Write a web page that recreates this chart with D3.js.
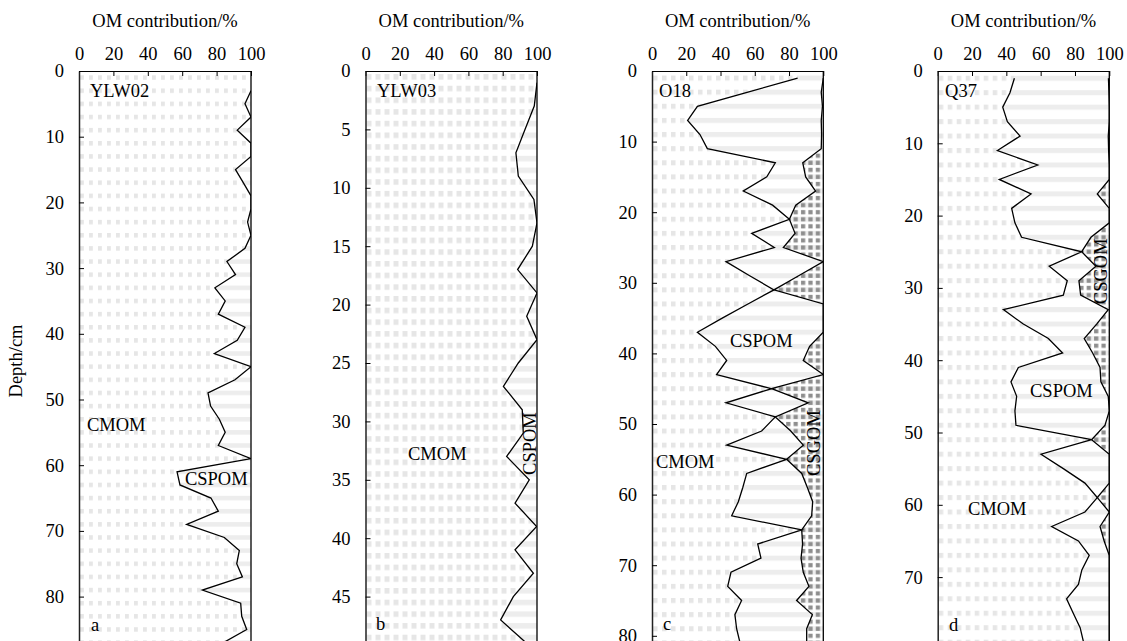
<!DOCTYPE html>
<html>
<head>
<meta charset="utf-8">
<script src="https://cdn.jsdelivr.net/npm/d3@7/dist/d3.min.js"></script>
<style>
  body { margin: 0; background: #fff; }
  svg { display: block; font-family: "Liberation Serif", "Times New Roman", serif; }
  .axis text { font-family: "Liberation Serif", "Times New Roman", serif; font-size: 18.5px; fill: #000; }
  .axis line, .axis path { stroke: #000; }
  .axis.y .domain { stroke-width: 1.5px; stroke: #222; }
  .label { font-size: 18.5px; fill: #000; }
</style>
</head>
<body>
<svg id="chart" width="1127" height="641"></svg>
<script>
// x axis (all panels)
var xTicks = [0, 20, 40, 60, 80, 100];

// YLW02
var depthA = [3, 5, 7, 9, 11, 13, 15, 17, 19, 21, 23, 25, 27, 29, 31, 33, 35, 37, 39, 41, 43, 45,
  47, 49, 51, 53, 55, 57, 59, 61, 63, 65, 67, 69, 71, 73, 75, 77, 79, 81, 83, 85, 87];
var cmomA = [100, 96.5, 100, 92, 100, 100, 91, 95.5, 100, 100, 98, 100, 96.5, 86, 91, 79, 85, 81, 96.5, 92, 78.7, 100,
  90.7, 75, 76.5, 81.6, 85, 81, 100, 57, 58.7, 76.7, 81, 62.6, 84.5, 93.2, 91.7, 95, 71.7, 94, 94.6, 97.5, 84];
var ticksA = [0, 10, 20, 30, 40, 50, 60, 70, 80];

// YLW03
var depthB = [1, 3, 5, 7, 9, 11, 13, 15, 17, 19, 21, 23, 25, 27, 29, 31, 33, 35, 37, 39, 41, 43, 45, 47, 49];
var cmomB = [100, 98.4, 93, 87.7, 89.1, 98.2, 100, 97.3, 88.7, 100, 94, 100, 89.1, 80.4, 91.4, 92, 82.3,
  95.5, 87.2, 99.8, 87.2, 97.9, 86.2, 78.8, 94];
var ticksB = [0, 5, 10, 15, 20, 25, 30, 35, 40, 45];

// O18
var depthC = [1, 3, 5, 7, 9, 11, 13, 15, 17, 19, 21, 23, 25, 27, 29, 31, 33, 35, 37, 39, 41,
  43, 45, 47, 49, 51, 53, 55, 57, 59, 61, 63, 65, 67, 69, 71, 73, 75, 77, 79, 81];
var cmomC = [85, 56, 26.5, 20.8, 28, 32.3, 72, 67, 53.3, 70.4, 80.2, 58.2, 71.4, 43.2, 57, 71.2, 56, 41, 26.5, 37, 43.6,
  37.7, 69.8, 43.2, 72, 64, 43.6, 78.6, 55.3, 53, 50.4, 46.5, 87.4, 61.7, 63.6, 46.1, 44.2, 52.3, 48.4, 49.4, 51.4];
var cmomSpomC = [100, 98.8, 99.5, 98.8, 99, 98.8, 88, 89.7, 95.5, 83.9, 80.2, 83.5, 76.7, 100, 85.6, 71.2, 100, 100, 100, 92, 88.3,
  100, 69.8, 91.2, 72, 81, 88.3, 78.6, 87.4, 90.7, 93.8, 93.2, 87.4, 87.9, 87, 88.3, 91.6, 84.4, 93.6, 90.3, 90.3];
var ticksC = [0, 10, 20, 30, 40, 50, 60, 70, 80];

// Q37
var depthD = [1, 3, 5, 7, 9, 11, 13, 15, 17, 19, 21, 23, 25, 27, 29, 31, 33, 35, 37, 39,
  41, 43, 45, 47, 49, 51, 53, 55, 57, 59, 61, 63, 65, 67, 69, 71, 73, 75, 77, 79];
var cmomD = [44.7, 42.1, 37.9, 40.6, 48, 34.8, 58.3, 35.9, 54.4, 43.1, 45, 48.9, 83.9, 65, 75.5, 73.2, 38.3, 49.9, 64.5, 72.8,
  47, 42.7, 46, 45, 45.6, 89.7, 60.2, 73.2, 85.8, 93, 85.8, 66.4, 82, 88.3, 84, 82, 75.1, 79, 83, 85];
var cmomSpomD = [99.5, 99.8, 100, 100, 99.4, 99.6, 100, 100, 93, 100, 100, 89.3, 83.9, 92.2, 82.3, 83.3, 99.4, 92.6, 85.4, 90.3,
  94.6, 95.1, 99.4, 100, 97.5, 89.7, 100, 100, 100, 93, 100, 94.6, 97, 100, 100, 100, 100, 100, 100, 100];
var ticksD = [0, 10, 20, 30, 40, 50, 60, 70];

var colors = { dots: "#e6e6e6", stripes: "#ededed", checker: "#8e8e8e" };
var plotTop = 71;

var panels = [
  { id: "a", left: 79, right: 251, cmPx: 6.57, maxDepth: 90, depth: depthA, cmom: cmomA, cum: null, ticks: ticksA,
    rowStep: 2, rowStart: 1, rowH: 4.5, dotW: 3.8,
    notes: [{ t: "YLW02", x: 6.4, y: 3.96 }, { t: "CMOM", x: 4.6, y: 54.8 }, { t: "CSPOM", x: 61.6, y: 63 }, { t: "a", x: 7, y: 85.2 }] },
  { id: "b", left: 365.5, right: 537, cmPx: 11.68, maxDepth: 50, depth: depthB, cmom: cmomB, cum: null, ticks: ticksB,
    rowStep: 1, rowStart: 0.5, rowH: 5.5, dotW: 5,
    notes: [{ t: "YLW03", x: 6.7, y: 2.23 }, { t: "CMOM", x: 24.8, y: 33.3 }, { t: "CSPOM", x: 95.9, y: 31.9, r: true }, { t: "b", x: 6.1, y: 47.9 }] },
  { id: "c", left: 652, right: 823.3, cmPx: 7.06, maxDepth: 90, depth: depthC, cmom: cmomC, cum: cmomSpomC, ticks: ticksC,
    rowStep: 2, rowStart: 1, rowH: 5, dotW: 4.5,
    notes: [{ t: "O18", x: 4.1, y: 3.68 }, { t: "CSPOM", x: 45.5, y: 39.1 }, { t: "CMOM", x: 2.3, y: 56.2 }, { t: "CSGOM", x: 94.6, y: 52.7, r: true }, { t: "c", x: 6.4, y: 79.2 }] },
  { id: "d", left: 937.7, right: 1109.3, cmPx: 7.23, maxDepth: 80, depth: depthD, cmom: cmomD, cum: cmomSpomD, ticks: ticksD,
    rowStep: 2, rowStart: 1, rowH: 5, dotW: 4.5,
    notes: [{ t: "Q37", x: 4.3, y: 3.6 }, { t: "CSPOM", x: 53.8, y: 45.1 }, { t: "CMOM", x: 17.6, y: 61.4 }, { t: "CSGOM", x: 95.1, y: 27.7, r: true }, { t: "d", x: 6.6, y: 77.5 }] }
];

var svg = d3.select("#chart");
var defs = svg.append("defs");

var patterns = function(p, x, y) {
  var rowPx = p.rowStep * p.cmPx;
  var oy = y(p.rowStart) - p.rowH / 2;

  var dots = defs.append("pattern").attr("id", "dots-" + p.id)
    .attr("patternUnits", "userSpaceOnUse").attr("x", x(0)).attr("y", oy)
    .attr("width", 9).attr("height", rowPx);
  dots.append("rect").attr("width", 9).attr("height", rowPx).attr("fill", "#fff");
  dots.append("rect").attr("x", 1).attr("width", p.dotW).attr("height", p.rowH).attr("fill", colors.dots);

  var stripes = defs.append("pattern").attr("id", "stripes-" + p.id)
    .attr("patternUnits", "userSpaceOnUse").attr("x", x(0)).attr("y", oy)
    .attr("width", 10).attr("height", rowPx);
  stripes.append("rect").attr("width", 10).attr("height", rowPx).attr("fill", "#fff");
  stripes.append("rect").attr("width", 10).attr("height", p.rowH).attr("fill", colors.stripes);

  var checker = defs.append("pattern").attr("id", "checker-" + p.id)
    .attr("patternUnits", "userSpaceOnUse").attr("x", x(0)).attr("y", oy)
    .attr("width", 7.4).attr("height", rowPx);
  checker.append("rect").attr("width", 7.4).attr("height", rowPx).attr("fill", "#fff");
  checker.append("rect").attr("width", 7.4).attr("height", p.rowH).attr("fill", colors.stripes);
  [0, rowPx / 2].forEach(function(dy) {
    checker.append("rect").attr("x", 1).attr("y", p.rowH / 2 - 2.1 + dy)
      .attr("width", 4.2).attr("height", 4.2).attr("fill", colors.checker);
  });
};

panels.forEach(function(p) {
  var x = d3.scaleLinear().domain([0, 100]).range([p.left, p.right]);
  var y = d3.scaleLinear().domain([0, p.maxDepth]).range([plotTop, plotTop + p.maxDepth * p.cmPx]);
  patterns(p, x, y);

  var g = svg.append("g").attr("class", "panel panel-" + p.id);

  defs.append("clipPath").attr("id", "clip-" + p.id)
    .append("rect").attr("x", x(0)).attr("y", y(0))
    .attr("width", x(100) - x(0)).attr("height", y(p.maxDepth) - y(0));

  var plot = g.append("g").attr("clip-path", "url(#clip-" + p.id + ")");

  var points = function(vals) {
    return p.depth.map(function(d, i) { return { d: d, v: vals[i] }; });
  };
  var extended = function(vals) {
    return [{ d: 0, v: vals[0] }].concat(points(vals), [{ d: p.maxDepth, v: vals[vals.length - 1] }]);
  };

  plot.append("rect").attr("class", "cspom")
    .attr("x", x(0)).attr("y", y(0))
    .attr("width", x(100) - x(0)).attr("height", y(p.maxDepth) - y(0))
    .attr("fill", "url(#stripes-" + p.id + ")");

  plot.append("path").attr("class", "cmom")
    .datum(extended(p.cmom))
    .attr("fill", "url(#dots-" + p.id + ")")
    .attr("d", d3.area()
      .y(function(d) { return y(d.d); })
      .x0(x(0))
      .x1(function(d) { return x(d.v); }));

  if (p.cum) {
    plot.append("path").attr("class", "csgom")
      .datum(extended(p.cum))
      .attr("fill", "url(#checker-" + p.id + ")")
      .attr("d", d3.area()
        .y(function(d) { return y(d.d); })
        .x0(function(d) { return x(d.v); })
        .x1(x(100)));
  }

  var line = d3.line()
    .x(function(d) { return x(d.v); })
    .y(function(d) { return y(d.d); });

  [p.cmom, p.cum].filter(Boolean).forEach(function(vals) {
    plot.append("path").datum(points(vals))
      .attr("fill", "none").attr("stroke", "#000").attr("stroke-width", 1.3)
      .attr("stroke-linejoin", "miter")
      .attr("d", line);
  });

  // right edge at 100 %
  g.append("line")
    .attr("x1", x(100)).attr("x2", x(100)).attr("y1", y(0)).attr("y2", y(p.maxDepth))
    .attr("stroke", "#000").attr("stroke-width", 1.3);

  g.append("g").attr("class", "axis x")
    .attr("transform", "translate(0," + y(0) + ")")
    .call(d3.axisTop(x).tickValues(xTicks).tickSize(-5).tickSizeOuter(0).tickPadding(11))
    .attr("font-family", null).attr("font-size", null);

  g.append("g").attr("class", "axis y")
    .attr("transform", "translate(" + x(0) + ",0)")
    .call(d3.axisLeft(y).tickValues(p.ticks).tickSize(-5).tickSizeOuter(0).tickPadding(15))
    .attr("font-family", null).attr("font-size", null);

  g.append("text").attr("class", "label")
    .attr("x", x(50)).attr("y", 27).attr("text-anchor", "middle")
    .text("OM contribution/%");

  p.notes.forEach(function(n) {
    var t = g.append("text").attr("class", "label").text(n.t);
    if (n.r) {
      t.attr("text-anchor", "middle").attr("dy", "0.33em")
        .attr("transform", "translate(" + x(n.x) + "," + y(n.y) + ") rotate(-90)");
    } else {
      t.attr("x", x(n.x)).attr("y", y(n.y));
    }
  });

  if (p.id === "a") {
    g.append("text").attr("class", "label")
      .attr("text-anchor", "middle")
      .attr("transform", "translate(22," + 361 + ") rotate(-90)")
      .text("Depth/cm");
  }
});
</script>
</body>
</html>
